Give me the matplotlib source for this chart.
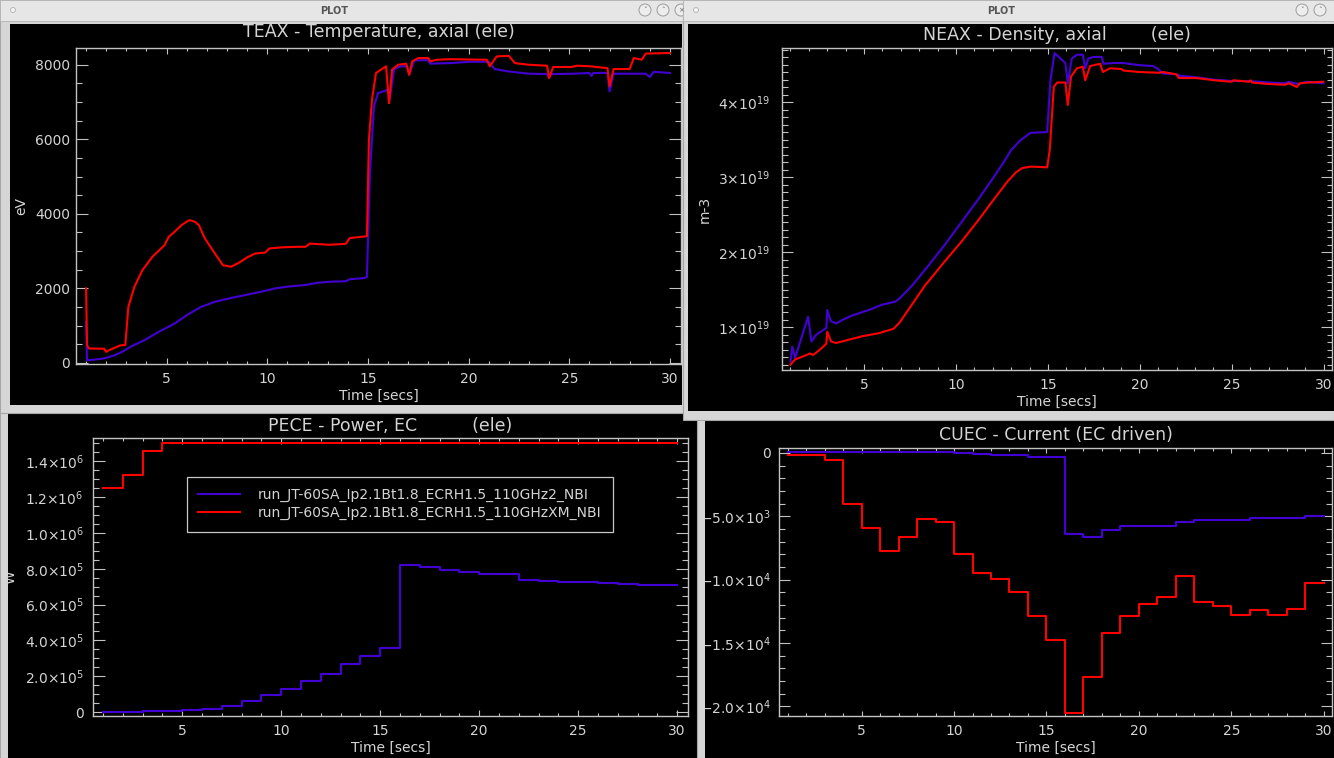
import matplotlib
matplotlib.use('Agg')
import matplotlib.pyplot as plt
from matplotlib.patches import Rectangle, Circle
from matplotlib.ticker import MultipleLocator

plt.rcParams['font.family'] = ['DejaVu Sans']
plt.rcParams['mathtext.fontset'] = 'dejavusans'

# ---------------- data ----------------
run_labels = ['run_JT-60SA_Ip2.1Bt1.8_ECRH1.5_110GHz2_NBI',
              'run_JT-60SA_Ip2.1Bt1.8_ECRH1.5_110GHzXM_NBI']

# TEAX - electron temperature on axis [eV]
teax_t_blue = [1.0, 1.05, 1.3, 1.9, 2.4, 2.8, 3.2, 3.9, 4.6, 5.4,
               6.0, 6.7, 7.4, 8.1, 8.9, 9.7, 10.4, 11.0, 11.9, 12.5,
               13.2, 13.9, 14.1, 14.8, 14.95, 15.1, 15.3, 15.5, 16.0, 16.05,
               16.3, 16.6, 16.95, 17.05, 17.3, 18.0, 18.1, 19.1, 20.1, 21.0,
               21.3, 22.0, 23.0, 23.9, 24.0, 24.1, 25.2, 26.0, 26.1, 26.2,
               26.9, 27.0, 27.2, 28.8, 29.0, 29.2, 30.0]
teax_blue = [1100, 70, 80, 120, 200, 300, 430, 610, 830, 1055,
             1280, 1500, 1640, 1730, 1820, 1910, 2000, 2045, 2090, 2150,
             2180, 2190, 2245, 2275, 2300, 5090, 6880, 7240, 7330, 6970,
             7870, 7960, 7960, 7730, 8120, 8120, 8030, 8045, 8080, 8080,
             7885, 7820, 7760, 7750, 7650, 7750, 7760, 7780, 7700, 7780,
             7780, 7285, 7760, 7760, 7670, 7810, 7780]
teax_t_red = [1.0, 1.05, 1.15, 1.9, 2.0, 2.1, 2.7, 2.95, 3.1, 3.4,
              3.8, 4.3, 4.9, 5.1, 5.4, 5.75, 6.0, 6.15, 6.4, 6.6,
              6.9, 7.4, 7.8, 8.2, 8.6, 9.0, 9.4, 9.9, 10.1, 10.7,
              11.5, 11.9, 12.1, 13.1, 13.9, 14.1, 14.8, 14.95, 15.05, 15.2,
              15.4, 15.9, 16.05, 16.2, 16.5, 16.9, 17.05, 17.2, 17.5, 18.0,
              18.1, 18.4, 19.1, 20.1, 20.9, 21.05, 21.4, 22.0, 22.3, 23.0,
              23.9, 24.0, 24.2, 25.1, 25.4, 26.0, 26.9, 27.0, 27.2, 28.0,
              28.2, 28.6, 28.8, 29.9, 30.0]
teax_red = [2000, 470, 385, 380, 295, 330, 470, 480, 1500, 2040,
            2490, 2850, 3160, 3380, 3520, 3700, 3790, 3830, 3790, 3700,
            3340, 2935, 2620, 2580, 2690, 2830, 2935, 2960, 3070, 3100,
            3115, 3115, 3200, 3170, 3195, 3350, 3390, 3400, 5990, 7060,
            7780, 7960, 6970, 7870, 8000, 8030, 7730, 8090, 8180, 8180,
            8090, 8135, 8150, 8140, 8135, 7960, 8225, 8240, 8045, 8000,
            7975, 7640, 7940, 7940, 7975, 7960, 7910, 7420, 7885, 7885,
            8180, 8135, 8300, 8315, 8315]

# NEAX - electron density on axis [1e19 m-3]
neax_t_blue = [1.0, 1.1, 1.25, 1.96, 2.14, 2.4, 2.77, 2.95, 3.0, 3.2,
               3.5, 3.84, 4.4, 5.27, 5.98, 6.7, 6.96, 7.6, 8.5, 9.4,
               10.3, 11.2, 12.0, 12.6, 13.0, 13.5, 14.06, 14.96, 15.14, 15.36,
               15.6, 15.95, 16.08, 16.3, 16.58, 16.9, 17.03, 17.2, 17.48, 17.93,
               18.02, 18.56, 19.1, 20.0, 20.72, 20.99, 21.26, 21.98, 22.16, 23.06,
               23.96, 25.04, 25.94, 27.01, 27.9, 28.1, 28.63, 29.08, 29.98]
neax_blue = [0.54, 0.74, 0.59, 1.14, 0.81, 0.90, 0.96, 0.99, 1.23, 1.08,
             1.05, 1.10, 1.16, 1.23, 1.30, 1.34, 1.39, 1.55, 1.82, 2.10,
             2.40, 2.70, 2.98, 3.20, 3.36, 3.49, 3.59, 3.60, 4.29, 4.65,
             4.60, 4.52, 4.25, 4.58, 4.63, 4.63, 4.45, 4.58, 4.60, 4.60,
             4.51, 4.52, 4.52, 4.49, 4.48, 4.44, 4.38, 4.37, 4.35, 4.33,
             4.30, 4.28, 4.28, 4.26, 4.25, 4.27, 4.24, 4.27, 4.25]
neax_t_red = [1.0, 1.25, 1.88, 2.05, 2.23, 2.6, 2.95, 3.0, 3.21, 3.48,
              4.91, 5.8, 6.61, 6.96, 7.6, 8.3, 9.4, 10.3, 11.2, 12.05,
              12.8, 13.25, 13.6, 14.06, 14.96, 15.1, 15.32, 15.5, 15.95, 16.08,
              16.26, 16.58, 16.9, 17.03, 17.3, 17.84, 17.99, 18.38, 19.0, 19.1,
              20.0, 21.08, 21.26, 21.98, 22.12, 23.06, 24.05, 24.95, 25.1, 25.94,
              26.03, 26.1, 27.01, 27.9, 28.1, 28.54, 28.7, 29.17, 29.98]
neax_red = [0.50, 0.57, 0.63, 0.65, 0.63, 0.70, 0.78, 0.94, 0.81, 0.79,
            0.88, 0.92, 0.98, 1.07, 1.30, 1.55, 1.88, 2.14, 2.42, 2.70,
            2.94, 3.06, 3.12, 3.14, 3.13, 3.36, 4.20, 4.26, 4.26, 3.96,
            4.34, 4.45, 4.47, 4.29, 4.48, 4.51, 4.40, 4.45, 4.44, 4.42,
            4.40, 4.39, 4.40, 4.37, 4.32, 4.32, 4.29, 4.27, 4.29, 4.27,
            4.29, 4.26, 4.24, 4.23, 4.25, 4.20, 4.25, 4.26, 4.27]

# PECE / CUEC are stepped once per second
step_t = [1, 2, 3, 4, 5, 6, 7, 8, 9, 10,
          11, 12, 13, 14, 15, 16, 17, 18, 19, 20,
          21, 22, 23, 24, 25, 26, 27, 28, 29, 30]
pece_blue = [0, 0, 4e3, 7e3, 1.3e4, 1.9e4, 3.4e4, 6.0e4, 9.3e4, 1.28e5,
             1.71e5, 2.14e5, 2.68e5, 3.13e5, 3.60e5, 8.19e5, 8.12e5, 7.95e5, 7.80e5, 7.71e5,
             7.71e5, 7.35e5, 7.30e5, 7.24e5, 7.24e5, 7.20e5, 7.16e5, 7.10e5, 7.10e5, 7.10e5]
pece_red = [1.25e6, 1.325e6, 1.46e6, 1.5e6, 1.5e6, 1.5e6, 1.5e6, 1.5e6, 1.5e6, 1.5e6,
            1.5e6, 1.5e6, 1.5e6, 1.5e6, 1.5e6, 1.5e6, 1.5e6, 1.5e6, 1.5e6, 1.5e6,
            1.5e6, 1.5e6, 1.5e6, 1.5e6, 1.5e6, 1.5e6, 1.5e6, 1.5e6, 1.5e6, 1.5e6]
cuec_blue = [50, 50, 50, 50, 50, 50, 50, 50, 50, 0,
             -100, -150, -200, -300, -350, -6400, -6600, -6100, -5800, -5800,
             -5800, -5450, -5300, -5300, -5300, -5100, -5100, -5100, -5000, -5000]
cuec_red = [-180, -180, -530, -4050, -5920, -7710, -6660, -5180, -5470, -7950,
            -9470, -9920, -11000, -12900, -14800, -20500, -17700, -14200, -12900, -11900,
            -11400, -9700, -11800, -12100, -12800, -12400, -12800, -12300, -10300, -10300]

# ticks
time_ticks = [5, 10, 15, 20, 25, 30]
time_labels = ['5', '10', '15', '20', '25', '30']
teax_yticks = [0, 2000, 4000, 6000, 8000]
teax_ylabels = ['0', '2000', '4000', '6000', '8000']
neax_yticks = [1, 2, 3, 4]
neax_ylabels = [r'$1{\times}10^{19}$', r'$2{\times}10^{19}$',
                r'$3{\times}10^{19}$', r'$4{\times}10^{19}$']
pece_yticks = [0, 2e5, 4e5, 6e5, 8e5, 1.0e6, 1.2e6, 1.4e6]
pece_ylabels = ['0', r'$2.0{\times}10^{5}$', r'$4.0{\times}10^{5}$', r'$6.0{\times}10^{5}$',
                r'$8.0{\times}10^{5}$', r'$1.0{\times}10^{6}$', r'$1.2{\times}10^{6}$',
                r'$1.4{\times}10^{6}$']
cuec_yticks = [0, -5e3, -1e4, -1.5e4, -2e4]
cuec_ylabels = ['0', r'$-5.0{\times}10^{3}$', r'$-1.0{\times}10^{4}$',
                r'$-1.5{\times}10^{4}$', r'$-2.0{\times}10^{4}$']

# ---------------- look ----------------
W, H = 1334, 758
FG = '#d4d4d4'
AXC = '#c2c2c2'
BLUE = '#4300d2'
RED = '#ff0000'

fig = plt.figure(figsize=(W / 100, H / 100), dpi=100)
fig.patch.set_facecolor('#d2d2d2')

bg = fig.add_axes([0, 0, 1, 1])
bg.set_xlim(0, W)
bg.set_ylim(H, 0)
bg.axis('off')


def draw_window(frame, black, bar_title=None, buttons=()):
	fx0, fy0, fx1, fy1 = frame
	bg.add_patch(Rectangle((fx0, fy0), fx1 - fx0, fy1 - fy0, facecolor='#d6d6d6',
	                       edgecolor='#a6a6a6', lw=0.8))
	if bar_title is not None:
		bg.add_patch(Rectangle((fx0, fy0), fx1 - fx0, 21, facecolor='#e6e6e6',
		                       edgecolor='#b4b4b4', lw=0.6))
		bg.text((fx0 + fx1) / 2 - 7, fy0 + 10.5, bar_title, ha='center', va='center',
		        fontsize=7, fontweight='bold', color='#555555')
		bg.add_patch(Circle((fx0 + 13, fy0 + 10), 2.5, facecolor='#f2f2f2',
		                    edgecolor='#b0b0b0', lw=0.6))
		for bx, glyph in buttons:
			bg.add_patch(Circle((bx, fy0 + 10), 6, facecolor='#ededed',
			                    edgecolor='#9c9c9c', lw=0.7))
			bg.text(bx, fy0 + 10, glyph, ha='center', va='center', fontsize=5,
			        color='#666666')
	bx0, by0, bx1, by1 = black
	bg.add_patch(Rectangle((bx0, by0), bx1 - bx0, by1 - by0, facecolor='black',
	                       edgecolor='none'))


draw_window((0, 405, 700, 758), (8, 414, 697, 758))
draw_window((697, 412, 1334, 758), (705, 421, 1334, 758))
draw_window((0, 0, 683, 413), (10, 24, 682, 405), 'PLOT',
            [(645, '\u02c5'), (663, '\u02c4'), (681, '\u00d7')])
draw_window((683, 0, 1334, 420), (688, 24, 1334, 411), 'PLOT',
            [(1302, '\u02c5'), (1320, '\u02c4')])


def idl_axes(box, xlim, ylim, ypad):
	"""axes placed in screenshot pixels, styled like an IDL direct-graphics plot"""
	x0, y0, x1, y1 = box
	ax = fig.add_axes([x0 / W, 1 - y1 / H, (x1 - x0) / W, (y1 - y0) / H])
	ax.set_facecolor('black')
	for s in ax.spines.values():
		s.set_color(AXC)
		s.set_linewidth(1.0)
	# IDL tick length: 2% of the plot size, minors half of that
	xl = 0.02 * (y1 - y0) * 0.72
	yl = 0.02 * (x1 - x0) * 0.72
	ax.tick_params(which='both', direction='in', top=True, right=True, color=AXC,
	               labelcolor=FG, labelsize=10, width=0.8)
	ax.tick_params(axis='x', which='major', length=xl, pad=6)
	ax.tick_params(axis='x', which='minor', length=xl / 2)
	ax.tick_params(axis='y', which='major', length=yl, pad=ypad)
	ax.tick_params(axis='y', which='minor', length=yl / 2)
	ax.set_xlim(*xlim)
	ax.set_ylim(*ylim)
	ax.set_xticks(time_ticks, labels=time_labels)
	ax.xaxis.set_minor_locator(MultipleLocator(1))
	return ax


def labels(ax, title, ylabel, title_pad):
	ax.set_title(title, color=FG, fontsize=12.5, pad=title_pad)
	ax.set_xlabel('Time [secs]', color=FG, fontsize=10, labelpad=2)
	if ylabel:
		ax.set_ylabel(ylabel, color=FG, fontsize=10, labelpad=5)


# TEAX
ax1 = idl_axes((76, 48, 681, 364), (0.5, 30.55), (-30, 8450), 4.3)
ax1.set_yticks(teax_yticks, labels=teax_ylabels)
ax1.yaxis.set_minor_locator(MultipleLocator(500))
ax1.plot(teax_t_blue, teax_blue, color=BLUE, lw=1.5)
ax1.plot(teax_t_red, teax_red, color=RED, lw=1.5)
labels(ax1, 'TEAX - Temperature, axial (ele)', 'eV', 8)

# NEAX
ax2 = idl_axes((782, 48, 1332, 370), (0.54, 30.45), (0.43, 4.72), 8.4)
ax2.set_yticks(neax_yticks, labels=neax_ylabels)
ax2.yaxis.set_minor_locator(MultipleLocator(0.1))
ax2.plot(neax_t_blue, neax_blue, color=BLUE, lw=1.5)
ax2.plot(neax_t_red, neax_red, color=RED, lw=1.5)
labels(ax2, 'NEAX - Density, axial        (ele)', 'm-3', 6)

# PECE
ax3 = idl_axes((93, 438, 688, 716), (0.5, 30.55), (-2.2e4, 1.53e6), 6.7)
ax3.set_yticks(pece_yticks, labels=pece_ylabels)
ax3.yaxis.set_minor_locator(MultipleLocator(5e4))
ax3.step(step_t, pece_blue, where='post', color=BLUE, lw=1.5, label=run_labels[0])
ax3.step(step_t, pece_red, where='post', color=RED, lw=1.5, label=run_labels[1])
labels(ax3, 'PECE - Power, EC          (ele)', 'W', 5)
leg = ax3.legend(loc='upper left', bbox_to_anchor=(0.158, 0.86), borderaxespad=0,
                 fontsize=10, handlelength=3.0, handletextpad=1.3, labelspacing=0.3,
                 borderpad=0.8, fancybox=False, framealpha=1)
leg.get_frame().set_facecolor('black')
leg.get_frame().set_edgecolor('#c8c8c8')
leg.get_frame().set_linewidth(0.9)
for txt in leg.get_texts():
	txt.set_color(FG)

# CUEC
ax4 = idl_axes((779, 448, 1332, 716), (0.53, 30.45), (-20770, 390), 6.2)
ax4.set_yticks(cuec_yticks, labels=cuec_ylabels)
ax4.yaxis.set_minor_locator(MultipleLocator(1000))
ax4.step(step_t, cuec_blue, where='post', color=BLUE, lw=1.5)
ax4.step(step_t, cuec_red, where='post', color=RED, lw=1.5)
labels(ax4, 'CUEC - Current (EC driven)', None, 6)

fig.savefig('out.png', dpi=100, facecolor=fig.get_facecolor())
